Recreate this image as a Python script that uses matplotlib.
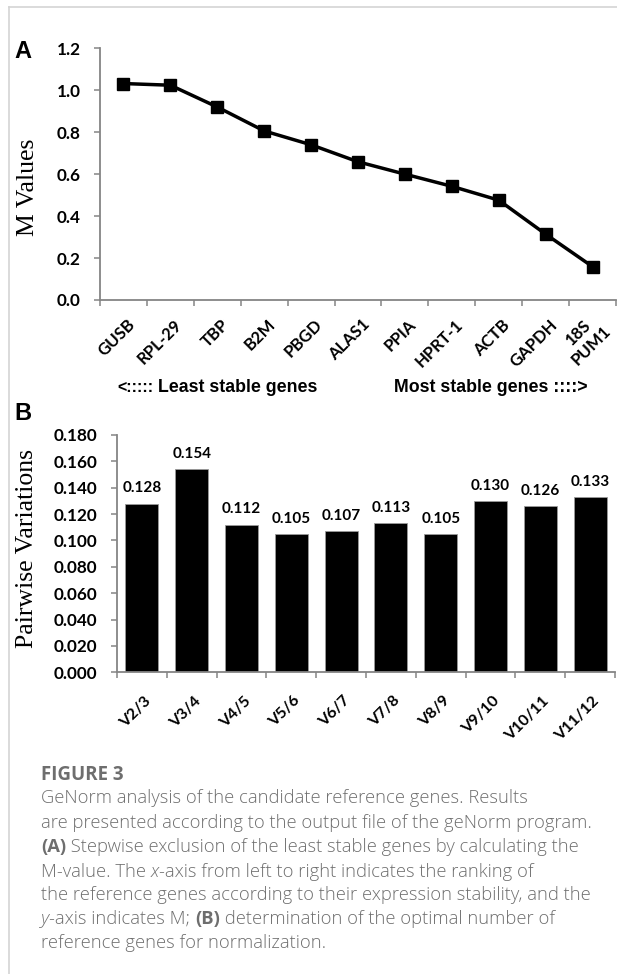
import matplotlib
matplotlib.use("Agg")
import matplotlib.pyplot as plt
import matplotlib.transforms as mtransforms
from matplotlib.lines import Line2D
from matplotlib.ticker import FormatStrFormatter
import numpy as np

# panel A: geNorm M values (least -> most stable)
genes = ["GUSB", "RPL-29", "TBP", "B2M", "PBGD", "ALAS1", "PPIA",
         "HPRT-1", "ACTB", "GAPDH", "18S\nPUM1"]
m_values = [1.032, 1.024, 0.920, 0.806, 0.740, 0.659, 0.600,
            0.542, 0.476, 0.314, 0.159]
m_ticks = [0.0, 0.2, 0.4, 0.6, 0.8, 1.0, 1.2]

# panel B: pairwise variations
pairs = ["V2/3", "V3/4", "V4/5", "V5/6", "V6/7", "V7/8", "V8/9",
         "V9/10", "V10/11", "V11/12"]
pairwise = [0.128, 0.154, 0.112, 0.105, 0.107, 0.113, 0.105,
            0.130, 0.126, 0.133]
v_ticks = [0.0, 0.02, 0.04, 0.06, 0.08, 0.10, 0.12, 0.14, 0.16, 0.18]

caption_title = "FIGURE 3"
caption_lines = [
    [("GeNorm analysis of the candidate reference genes. Results", "normal", "normal")],
    [("are presented according to the output file of the geNorm program.", "normal", "normal")],
    [("(A)", "bold", "normal"),
     (" Stepwise exclusion of the least stable genes by calculating the", "normal", "normal")],
    [("M-value. The ", "normal", "normal"), ("x", "normal", "italic"),
     ("-axis from left to right indicates the ranking of", "normal", "normal")],
    [("the reference genes according to their expression stability, and the", "normal", "normal")],
    [("y", "normal", "italic"), ("-axis indicates M; ", "normal", "normal"),
     ("(B)", "bold", "normal"), (" determination of the optimal number of", "normal", "normal")],
    [("reference genes for normalization.", "normal", "normal")],
]

W, H = 617, 974
TICK_FONT = "Lato"
AXIS_GRAY = "#858585"


def fx(px):
    return px / W


def fy(py):
    return 1 - py / H


def style_axes(ax, xpad):
    for side in ("top", "right"):
        ax.spines[side].set_visible(False)
    for side in ("left", "bottom"):
        ax.spines[side].set_color(AXIS_GRAY)
        ax.spines[side].set_linewidth(1.3)
    ax.tick_params(axis="y", direction="out", length=4, width=1.1,
                   color=AXIS_GRAY, pad=10, labelsize=12.3)
    ax.tick_params(axis="x", which="major", length=0, pad=xpad)
    ax.tick_params(axis="x", which="minor", direction="out", length=4,
                   width=1.1, color=AXIS_GRAY)
    for lab in ax.get_yticklabels():
        lab.set_fontfamily(TICK_FONT)
        lab.set_fontweight("bold")


def rotated_labels(ax, labels, size, xshift):
    n = len(labels)
    ax.set_xticks(range(n))
    ax.set_xticks(np.arange(-0.5, n, 1.0), minor=True)
    ax.set_xticklabels(labels, rotation=45, ha="right", va="center",
                       rotation_mode="anchor", multialignment="center",
                       fontsize=size, fontweight="bold", family=TICK_FONT)
    shift = mtransforms.ScaledTranslation(xshift / 100, 0, ax.figure.dpi_scale_trans)
    for lab in ax.get_xticklabels():
        lab.set_transform(lab.get_transform() + shift)
    ax.set_xlim(-0.5, n - 0.5)


fig = plt.figure(figsize=(W / 100, H / 100), dpi=100)
fig.patch.set_facecolor("white")

# thin page border (left and top)
fig.add_artist(Line2D([fx(9), fx(9)], [fy(7), 0], color="#d4d4d4", lw=1.2))
fig.add_artist(Line2D([fx(9), 1], [fy(7), fy(7)], color="#d4d4d4", lw=1.2))

# ---- panel A ----
ax_a = fig.add_axes([fx(100), fy(300), fx(516), 251.7 / H])
ax_a.plot(range(len(genes)), m_values, color="black", lw=2.5,
          marker="s", markersize=9, clip_on=False)
ax_a.set_ylim(0, 1.2)
ax_a.set_yticks(m_ticks)
ax_a.yaxis.set_major_formatter(FormatStrFormatter("%.1f"))
style_axes(ax_a, 16)
rotated_labels(ax_a, genes, 12, 9)
fig.text(fx(28), fy(187), "M Values", rotation=90, ha="center", va="center",
         family="Liberation Serif", fontsize=18.5)
fig.text(fx(14), fy(51), "A", ha="left", va="center", fontsize=17,
         fontweight="bold", family="Liberation Sans")

fig.text(fx(117), fy(388), "<:::::", ha="left", va="center", fontsize=11.5,
         fontweight="bold", family="Liberation Sans")
fig.text(fx(158), fy(388), "Least stable genes", ha="left", va="center",
         fontsize=12.8, fontweight="bold", family="Liberation Sans")
fig.text(fx(588), fy(388), "Most stable genes ::::>", ha="right", va="center",
         fontsize=12.8, fontweight="bold", family="Liberation Sans")

# ---- panel B ----
ax_b = fig.add_axes([fx(117), fy(672.3), fx(498), 237.3 / H])
bars = ax_b.bar(range(len(pairs)), pairwise, width=0.66, color="black",
                edgecolor="#9a9a9a", linewidth=0.6)
ax_b.set_ylim(0, 0.18)
ax_b.set_yticks(v_ticks)
ax_b.yaxis.set_major_formatter(FormatStrFormatter("%.3f"))
style_axes(ax_b, 19)
rotated_labels(ax_b, pairs, 11.5, 7)
ax_b.bar_label(bars, fmt="%.3f", padding=6, fontsize=11,
               fontweight="bold", family=TICK_FONT)
fig.text(fx(27), fy(548), "Pairwise Variations", rotation=90, ha="center",
         va="center", family="Liberation Serif", fontsize=18.5)
fig.text(fx(14), fy(414), "B", ha="left", va="center", fontsize=17,
         fontweight="bold", family="Liberation Sans")

# ---- caption ----
cap_color = "#6e6e6e"
cap_font = "Open Sans"
fig.text(fx(41), fy(775), caption_title, ha="left", va="center", fontsize=13.5,
         fontweight="bold", family=cap_font, color=cap_color)

fig.canvas.draw()
renderer = fig.canvas.get_renderer()
line_y = [798, 823, 847, 872, 895, 919, 943]
for runs, py in zip(caption_lines, line_y):
    x = fx(41)
    for txt, weight, style in runs:
        w = 300 if weight == "normal" else weight
        t = fig.text(x, fy(py), txt, ha="left", va="center", fontsize=13.2,
                     fontweight=w, fontstyle=style, family=cap_font,
                     color=cap_color)
        bb = t.get_window_extent(renderer)
        x += bb.width / fig.bbox.width

fig.savefig("out.png", dpi=100, facecolor="white")
